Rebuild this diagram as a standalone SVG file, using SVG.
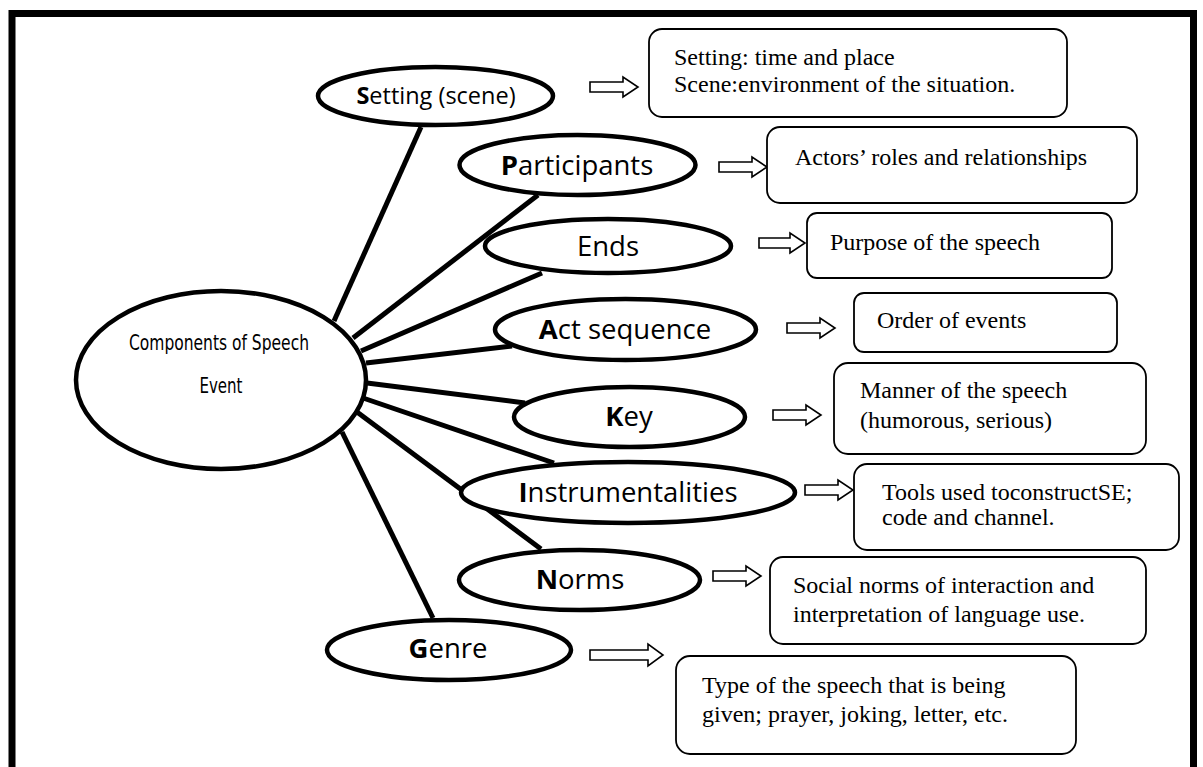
<svg xmlns="http://www.w3.org/2000/svg" width="1203" height="767" viewBox="0 0 1203 767">
<defs>
<style>
.frame{fill:none;stroke:#000;stroke-width:7}
.conn line{stroke:#000;stroke-width:5;stroke-linecap:butt}
.node ellipse{fill:#fff;stroke:#000;stroke-width:4.5}
.lbl{font-family:"Open Sans",Lato,sans-serif;font-size:27.5px;fill:#000;text-anchor:middle}
.lbl.sm{font-size:23.5px}
.lbl tspan.b{font-weight:bold}
.main{font-family:"DejaVu Sans Condensed","DejaVu Sans",sans-serif;font-size:22px;fill:#000;text-anchor:middle}
.box rect{fill:#fff;stroke:#000;stroke-width:1.8}
.box text{font-family:"Liberation Serif","Times New Roman",serif;font-size:24px;fill:#000}
.arr{fill:#fff;stroke:#000;stroke-width:1.6;stroke-linejoin:miter}
</style>
</defs>
<rect width="1203" height="767" fill="#fff"/>
<path class="frame" d="M12 767 V13.5 H1193.5 V767"/>

<g id="connectors" class="conn">
<line x1="334" y1="321" x2="421" y2="127"/>
<line x1="353" y1="338" x2="538" y2="195"/>
<line x1="361" y1="351" x2="542" y2="273"/>
<line x1="366" y1="363" x2="512" y2="346"/>
<line x1="367" y1="383" x2="525" y2="403"/>
<line x1="363" y1="398" x2="554" y2="463"/>
<line x1="357" y1="412" x2="541" y2="549"/>
<line x1="342" y1="432" x2="433" y2="618"/>
</g>

<g id="arrows">
<path class="arr" d="M590 82 H623 V77 L638 87 L623 97 V92 H590 Z"/>
<path class="arr" d="M719 162 H752 V157 L767 167 L752 177 V172 H719 Z"/>
<path class="arr" d="M759 238 H790 V233 L805 243 L790 253 V248 H759 Z"/>
<path class="arr" d="M787 323 H820 V318 L835 328 L820 338 V333 H787 Z"/>
<path class="arr" d="M773 410 H806 V405 L821 415 L806 425 V420 H773 Z"/>
<path class="arr" d="M805 485 H838 V480 L853 490 L838 500 V495 H805 Z"/>
<path class="arr" d="M713 571 H746 V566 L761 576 L746 586 V581 H713 Z"/>
<path class="arr" d="M590 650 H648 V644 L663 655 L648 666 V660 H590 Z"/>
</g>

<g id="node-main" class="node">
<ellipse cx="221" cy="380" rx="145" ry="89"/>
<text class="main" x="219" y="350" textLength="180" lengthAdjust="spacingAndGlyphs">Components of Speech</text>
<text class="main" x="221" y="393" textLength="43" lengthAdjust="spacingAndGlyphs">Event</text>
</g>

<g id="node-setting" class="node">
<ellipse cx="435.5" cy="96" rx="117.5" ry="29"/>
<text class="lbl sm" x="436" y="104"><tspan class="b">S</tspan>etting (scene)</text>
</g>
<g id="node-participants" class="node">
<ellipse cx="577.5" cy="165" rx="118" ry="30"/>
<text class="lbl" x="577" y="175"><tspan class="b">P</tspan>articipants</text>
</g>
<g id="node-ends" class="node">
<ellipse cx="608" cy="246" rx="123" ry="27"/>
<text class="lbl" x="608" y="256">Ends</text>
</g>
<g id="node-act" class="node">
<ellipse cx="625.5" cy="329.5" rx="130.5" ry="30.5"/>
<text class="lbl" x="625" y="339"><tspan class="b">A</tspan>ct sequence</text>
</g>
<g id="node-key" class="node">
<ellipse cx="629.5" cy="417" rx="115.5" ry="30"/>
<text class="lbl" x="629" y="426"><tspan class="b">K</tspan>ey</text>
</g>
<g id="node-instr" class="node">
<ellipse cx="628" cy="492.5" rx="167" ry="30.5"/>
<text class="lbl" x="628" y="502"><tspan class="b">I</tspan>nstrumentalities</text>
</g>
<g id="node-norms" class="node">
<ellipse cx="579.5" cy="580" rx="120.5" ry="30"/>
<text class="lbl" x="580" y="589"><tspan class="b">N</tspan>orms</text>
</g>
<g id="node-genre" class="node">
<ellipse cx="449" cy="650" rx="122" ry="30"/>
<text class="lbl" x="448" y="658"><tspan class="b">G</tspan>enre</text>
</g>

<g id="box-setting" class="box">
<rect x="649" y="29" width="418" height="88" rx="13"/>
<text x="674" y="65">Setting: time and place</text>
<text x="674" y="92">Scene:environment of the situation.</text>
</g>
<g id="box-participants" class="box">
<rect x="767" y="127" width="370" height="76" rx="13"/>
<text x="795" y="165">Actors’ roles and relationships</text>
</g>
<g id="box-ends" class="box">
<rect x="807" y="213" width="305" height="65" rx="10"/>
<text x="830" y="250">Purpose of the speech</text>
</g>
<g id="box-act" class="box">
<rect x="854" y="293" width="263" height="59" rx="10"/>
<text x="877" y="328">Order of events</text>
</g>
<g id="box-key" class="box">
<rect x="834" y="363" width="312" height="91" rx="14"/>
<text x="860" y="398">Manner of the speech</text>
<text x="860" y="428">(humorous, serious)</text>
</g>
<g id="box-instr" class="box">
<rect x="854" y="464" width="325" height="86" rx="13"/>
<text x="882" y="500">Tools used toconstructSE;</text>
<text x="882" y="525">code and channel.</text>
</g>
<g id="box-norms" class="box">
<rect x="770" y="557" width="376" height="87" rx="13"/>
<text x="793" y="593">Social norms of interaction and</text>
<text x="793" y="622">interpretation of language use.</text>
</g>
<g id="box-genre" class="box">
<rect x="676" y="656" width="400" height="98" rx="14"/>
<text x="702" y="693">Type of the speech that is being</text>
<text x="702" y="722">given; prayer, joking, letter, etc.</text>
</g>
</svg>
